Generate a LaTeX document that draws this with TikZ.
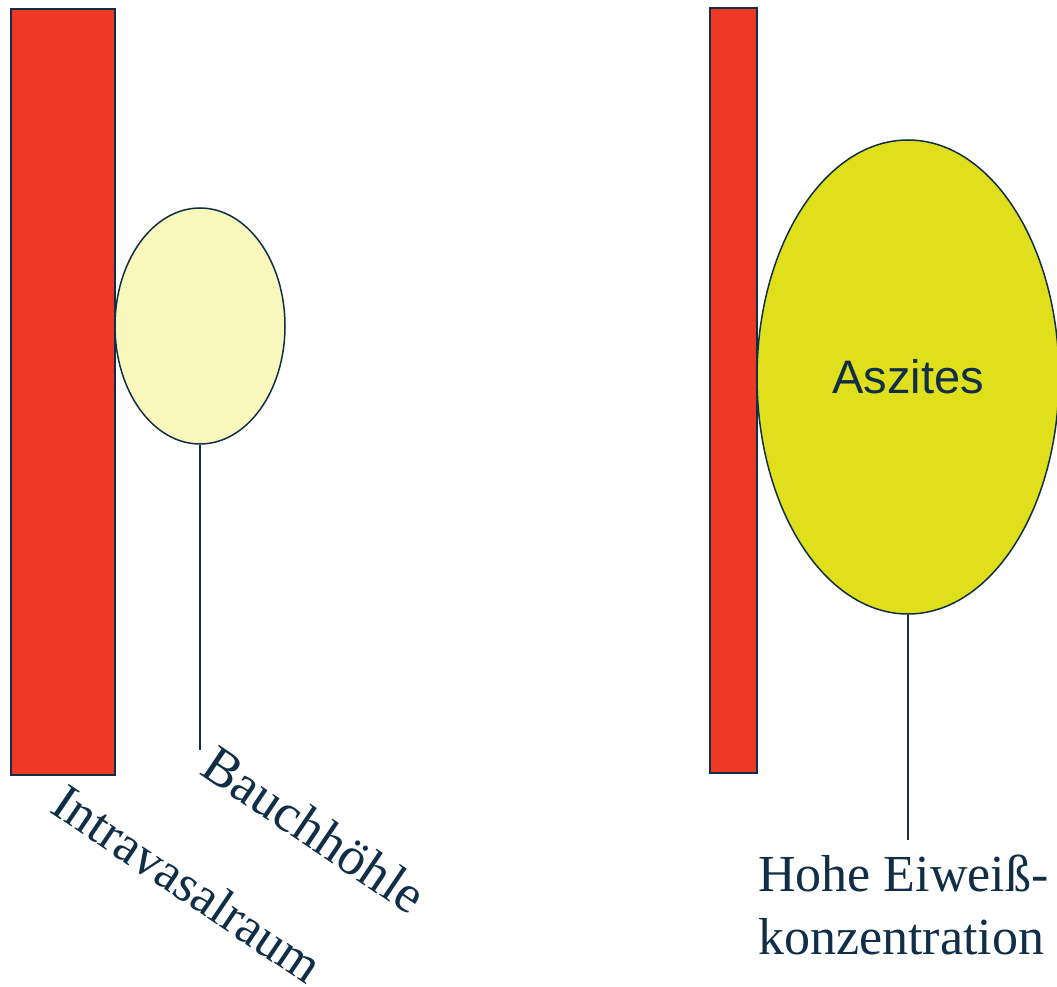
\documentclass[tikz,border=0pt]{standalone}
\usepackage{fontspec}
\setmainfont{Liberation Serif}
\setsansfont{Liberation Sans}
\usetikzlibrary{shapes.geometric}
\definecolor{navy}{HTML}{102E48}
\definecolor{vessel}{HTML}{EE3A24}
\definecolor{palecav}{HTML}{F8F7BC}
\definecolor{ascites}{HTML}{E0DF1B}
\tikzset{
  vesselbox/.style={draw=navy, line width=2pt, fill=vessel},
  cavity/.style={draw=navy, line width=1.5pt, ellipse, inner sep=0pt},
  leader/.style={draw=navy, line width=1.5pt},
  serlabel/.style={text=navy, inner sep=0pt, font=\fontsize{52}{63}\selectfont},
  rotlabel/.style={text=navy, inner sep=0pt, font=\fontsize{53.5}{63}\selectfont, rotate=-34, anchor=base west},
}
\begin{document}
\begin{tikzpicture}[x=1pt,y=-1pt]
\useasboundingbox (0,0) rectangle (1057,987);
% left situation
\draw[vesselbox] (11,9) rectangle (115,775);
\node[cavity, fill=palecav, minimum width=170pt, minimum height=236pt] (cav1) at (200,326) {};
\coordinate (l1end) at (200,750);
\draw[leader] (cav1.south) -- (l1end);
\node[rotlabel] (bauch) at (198,773) {Bauchhöhle};
\node[rotlabel, font=\fontsize{52}{63}\selectfont] (intra) at (48,811) {Intravasalraum};
% right situation
\draw[vesselbox] (710,8) rectangle (757,773);
\node[cavity, fill=ascites, minimum width=302pt, minimum height=474pt,
      font=\sffamily\fontsize{47}{52}\selectfont, text=navy] (cav2) at (908,377) {Aszites};
\coordinate (l2end) at (908,840);
\draw[leader] (cav2.south) -- (l2end);
\node[serlabel, anchor=north west, align=left] (eiweiss) at (758,855) {Hohe Eiweiß-\\konzentration};
\end{tikzpicture}
\end{document}
